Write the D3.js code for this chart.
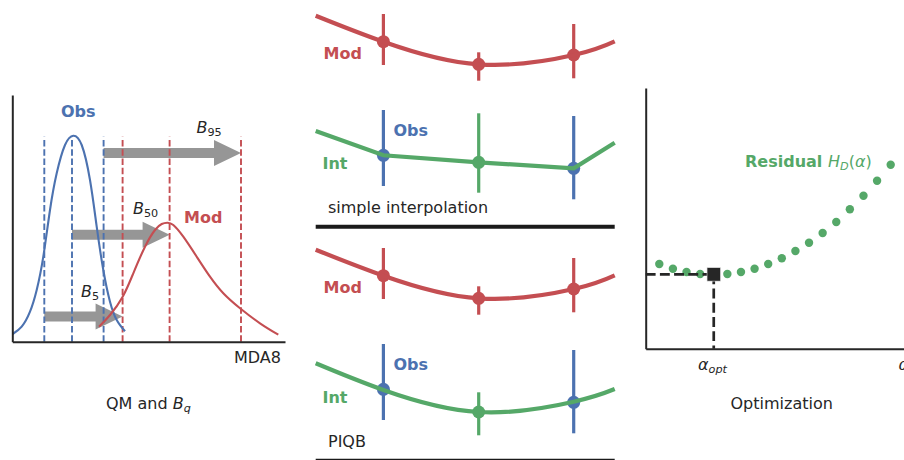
<!DOCTYPE html>
<html>
<head>
<meta charset="utf-8">
<script src="https://cdn.jsdelivr.net/npm/d3@7"></script>
<style>
  html, body { margin: 0; padding: 0; background: #fff; overflow: hidden; }
  svg { display: block; }
  text { font-family: "DejaVu Sans", sans-serif; font-size: 16px; fill: #262626; }
</style>
</head>
<body>
<div id="chart"></div>
<script>
// left panel: distributions (x = MDA8, y = density, arbitrary units)
var obsX = [0.4, 9.4, 17.7, 24.4, 31, 37.7, 44.4, 52.7, 61, 69.4, 77.7, 84.4, 91, 97.7, 104.4, 112.7]
var obsY = [7.7, 15, 30, 51.7, 85, 131.7, 168.4, 196.7, 206, 196.7, 161.7, 115, 71.7, 40, 21.7, 10.4]
var modX = [86.7, 97.7, 110.4, 121, 132.7, 142.7, 149.4, 155, 161, 171, 184.4, 197.7, 211, 227.7, 247.7, 266]
var modY = [15, 26.7, 45, 68.4, 95, 111.7, 117.7, 119, 116.7, 105, 85, 65, 48.4, 33.4, 18.4, 7]
var obsQuantiles = [32, 59.7, 91.3]
var modQuantiles = [110.3, 157.3, 228.7]
var quantileTop = 205
var arrowLevels = [25.3, 107, 188.7]
var arrowLabels = ["5", "50", "95"]

// middle panels: stations along a transect
var curveX = [0, 67.7, 163, 258, 299]
var stationX = [67.7, 163, 258]
var modCurve = [214.3, 188.3, 165.7, 175, 188.7]
var modPoints = [188.3, 165.7, 175]
var modLow = [165, 149.3, 151.7]
var modHigh = [216, 177.7, 206]

var simpleInt = [99, 74.7, 67.7, 61.7, 87.3]
var simplePoints = [74.7, 67.7, 61.7]
var simpleLow = [44, 37.3, 30.7]
var simpleHigh = [120, 116.7, 114]

var piqbInt = [100.7, 74, 52, 62.3, 75]
var piqbPoints = [74.7, 52, 61.7]
var piqbLow = [44, 28.7, 30.7]
var piqbHigh = [120, 71.7, 114]

// right panel: residual against alpha
var alphaSteps = [1, 2, 3, 4, 5, 6, 7, 8, 9, 10, 11, 12, 13, 14, 15, 16, 17, 18]
var residual = [84.7, 80, 76.7, 74.7, 74.3, 74.7, 76.7, 80, 84.7, 90.4, 97.7, 106, 115.7, 126.7, 139.4, 153, 168, 184]
var alphaOpt = 5
var residualOpt = 74.3

var blue = "#4C72B0", red = "#C44E52", green = "#55A868", dark = "#262626", grey = "#969696"

var svg = d3.select("#chart").append("svg").attr("width", 904).attr("height", 460)

function label(x, y, str, color, bold) {
  return svg.append("text").attr("x", x).attr("y", y)
    .style("fill", color || dark)
    .style("font-weight", bold ? "bold" : "normal")
    .text(str)
}

// italic symbol with a subscript
function symbol(x, y, sym, sub, subItalic) {
  var t = svg.append("text").attr("x", x).attr("y", y)
  t.append("tspan").style("font-style", "italic").text(sym)
  t.append("tspan").attr("dy", 3).style("font-size", "11.2px")
    .style("font-style", subItalic ? "italic" : "normal").text(sub)
  return t
}

function spines(x, y, left, bottom) {
  svg.append("g").attr("transform", "translate(" + left + ",0)")
    .call(d3.axisLeft(y).tickValues([]).tickSizeOuter(0))
    .select(".domain").attr("stroke", dark).attr("stroke-width", 2)
  svg.append("g").attr("transform", "translate(0," + bottom + ")")
    .call(d3.axisBottom(x).tickValues([]).tickSizeOuter(0))
    .select(".domain").attr("stroke", dark).attr("stroke-width", 2)
}

// ---- left panel ----
var x1 = d3.scaleLinear().domain([0, 272.7]).range([12.3, 285])
var y1 = d3.scaleLinear().domain([0, 246.7]).range([341.7, 95])

// arrows go from an obs quantile to the matching mod quantile
arrowLevels.forEach(function (lev, i) {
  var x0 = x1(obsQuantiles[i]), xe = x1(modQuantiles[i]), yc = y1(lev)
  var p = d3.path()
  p.moveTo(x0, yc - 5)
  p.lineTo(xe - 27, yc - 5)
  p.lineTo(xe - 27, yc - 13)
  p.lineTo(xe, yc)
  p.lineTo(xe - 27, yc + 13)
  p.lineTo(xe - 27, yc + 5)
  p.lineTo(x0, yc + 5)
  p.closePath()
  svg.append("path").attr("d", p.toString()).attr("fill", grey)
})

function vDashes(vals, color) {
  svg.selectAll(null).data(vals).enter().append("line")
    .attr("x1", function (d) { return x1(d) })
    .attr("x2", function (d) { return x1(d) })
    .attr("y1", y1(0))
    .attr("y2", y1(quantileTop))
    .attr("stroke", color)
    .attr("stroke-width", 1.9)
    .attr("stroke-dasharray", "6.5,2.8")
}
vDashes(obsQuantiles, blue)
vDashes(modQuantiles, red)

var densityLine = d3.line()
  .x(function (d) { return x1(d[0]) })
  .y(function (d) { return y1(d[1]) })
  .curve(d3.curveNatural)

svg.append("path").datum(d3.zip(obsX, obsY)).attr("fill", "none")
  .attr("stroke", blue).attr("stroke-width", 2.1).attr("d", densityLine)
svg.append("path").datum(d3.zip(modX, modY)).attr("fill", "none")
  .attr("stroke", red).attr("stroke-width", 2.1).attr("d", densityLine)

spines(x1, y1, 12.3, 341.7)

label(61, 117, "Obs", blue, true)
label(184, 223, "Mod", red, true)
label(234, 362.7, "MDA8")
symbol(81, 297, "B", arrowLabels[0])
symbol(133, 214, "B", arrowLabels[1])
symbol(196.5, 133, "B", arrowLabels[2])
var qm = label(106, 409, "QM and ")
qm.append("tspan").style("font-style", "italic").text("B")
qm.append("tspan").attr("dy", 3).style("font-size", "11.2px").style("font-style", "italic").text("q")

// ---- middle panels ----
var x2 = d3.scaleLinear().domain([0, 299]).range([315.7, 614.7])

function stationPanel(y, intVals, pts, lows, highs, intCurve, barColors) {
  var line = d3.line()
    .x(function (d) { return x2(d[0]) })
    .y(function (d) { return y(d[1]) })

  // mod stations then curve
  stationX.forEach(function (sx, i) {
    svg.append("line").attr("x1", x2(sx)).attr("x2", x2(sx))
      .attr("y1", y(modLow[i])).attr("y2", y(modHigh[i]))
      .attr("stroke", red).attr("stroke-width", 3.2)
  })
  svg.selectAll(null).data(d3.zip(stationX, modPoints)).enter().append("circle")
    .attr("cx", function (d) { return x2(d[0]) })
    .attr("cy", function (d) { return y(d[1]) })
    .attr("r", 6.5).attr("fill", red)
  svg.append("path").datum(d3.zip(curveX, modCurve)).attr("fill", "none")
    .attr("stroke", red).attr("stroke-width", 4.2)
    .attr("d", line.curve(d3.curveNatural))

  // obs or interpolated stations, line goes over the dots
  stationX.forEach(function (sx, i) {
    svg.append("line").attr("x1", x2(sx)).attr("x2", x2(sx))
      .attr("y1", y(lows[i])).attr("y2", y(highs[i]))
      .attr("stroke", barColors[i]).attr("stroke-width", 3.2)
    svg.append("circle").attr("cx", x2(sx)).attr("cy", y(pts[i]))
      .attr("r", 6.5).attr("fill", barColors[i])
  })
  svg.append("path").datum(d3.zip(curveX, intVals)).attr("fill", "none")
    .attr("stroke", green).attr("stroke-width", 4.2)
    .attr("d", line.curve(intCurve))
}

var yTop = d3.scaleLinear().domain([0, 230]).range([230, 0])
var yBot = d3.scaleLinear().domain([0, 229]).range([464, 235])
var barColors = [blue, green, blue]

stationPanel(yTop, simpleInt, simplePoints, simpleLow, simpleHigh, d3.curveLinear, barColors)
stationPanel(yBot, piqbInt, piqbPoints, piqbLow, piqbHigh, d3.curveNatural, barColors)

label(323.5, 59.3, "Mod", red, true)
label(393.5, 136, "Obs", blue, true)
label(322.5, 169.3, "Int", green, true)
label(328, 213.3, "simple interpolation")
label(323.5, 293.3, "Mod", red, true)
label(393.5, 369.7, "Obs", blue, true)
label(322.5, 403, "Int", green, true)
label(328, 447, "PIQB")

svg.append("line").attr("x1", x2(0)).attr("x2", x2(299)).attr("y1", 226.7).attr("y2", 226.7)
  .attr("stroke", "#1a1a1a").attr("stroke-width", 4)
svg.append("line").attr("x1", x2(0)).attr("x2", x2(299)).attr("y1", 459.5).attr("y2", 459.5)
  .attr("stroke", "#1a1a1a").attr("stroke-width", 1.5)

// ---- right panel ----
var x3 = d3.scaleLinear().domain([1, 18]).range([659.3, 890.7])
var y3 = d3.scaleLinear().domain([0, 260.7]).range([348.7, 88])

svg.selectAll(null).data(d3.zip(alphaSteps, residual)).enter().append("circle")
  .attr("cx", function (d) { return x3(d[0]) })
  .attr("cy", function (d) { return y3(d[1]) })
  .attr("r", 4.2).attr("fill", green)

svg.append("line").attr("x1", 645.7).attr("x2", x3(alphaOpt))
  .attr("y1", y3(residualOpt)).attr("y2", y3(residualOpt))
  .attr("stroke", dark).attr("stroke-width", 2.7).attr("stroke-dasharray", "9.9,4.3")
svg.append("line").attr("x1", x3(alphaOpt)).attr("x2", x3(alphaOpt))
  .attr("y1", y3(residualOpt)).attr("y2", y3(0))
  .attr("stroke", dark).attr("stroke-width", 2.7).attr("stroke-dasharray", "9.9,4.3")
svg.append("rect")
  .attr("x", x3(alphaOpt) - 6.7).attr("y", y3(residualOpt) - 6.7)
  .attr("width", 13.4).attr("height", 13.4)
  .attr("fill", dark).attr("stroke", "#ddd").attr("stroke-width", 0.6)

spines(d3.scaleLinear().domain([0, 1]).range([645.7, 904]), y3, 645.7, 348.7)

label(745, 166.7, "Residual", green, true)
var hd = svg.append("text").attr("x", 828).attr("y", 166.7).style("fill", green)
hd.append("tspan").style("font-style", "italic").text("H")
hd.append("tspan").attr("dy", 3).style("font-size", "11.2px").style("font-style", "italic").text("D")
hd.append("tspan").attr("dy", -3).text("(")
hd.append("tspan").style("font-style", "italic").text("α")
hd.append("tspan").text(")")
symbol(698, 370, "α", "opt", true)
symbol(898.5, 370, "α", "", true)
label(730.5, 409, "Optimization")
</script>
</body>
</html>
